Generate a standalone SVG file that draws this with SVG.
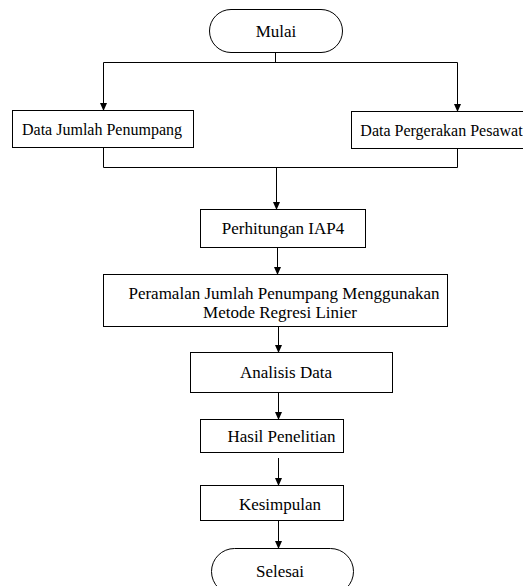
<svg xmlns="http://www.w3.org/2000/svg" width="523" height="586" viewBox="0 0 523 586">
<defs>
<marker id="ah" markerWidth="8" markerHeight="8" refX="7" refY="4" orient="auto" markerUnits="userSpaceOnUse">
<path d="M0,0.5 L8,4 L0,7.5 Z" fill="#000"/>
</marker>
<style>
.b{fill:#fff;stroke:#000;stroke-width:1}
.t{font-family:'Liberation Serif','DejaVu Serif','Times New Roman',Times,serif;font-size:17px;fill:#000;text-anchor:middle;dominant-baseline:central}
.s{font-size:16px}
.c{fill:none;stroke:#000;stroke-width:1}
.a{marker-end:url(#ah)}
</style>
</defs>
<rect width="523" height="586" fill="#fff"/>
<g id="connectors">
<path class="c" d="M275.5,52 V62.5 M103.5,62.5 H457.5"/>
<path class="c a" d="M103.5,62.5 V110"/>
<path class="c a" d="M457.5,62.5 V111"/>
<path class="c" d="M103.5,147 V167.5 H457.5 V148"/>
<path class="c a" d="M276.5,167.5 V209"/>
<path class="c a" d="M277.5,247 V274"/>
<path class="c a" d="M278.5,326 V352"/>
<path class="c a" d="M278.5,392 V419"/>
<path class="c a" d="M278.5,458 V485"/>
<path class="c a" d="M278.5,520 V548"/>
</g>
<g font-family="Liberation Serif, DejaVu Serif, serif">
<g id="mulai"><rect class="b" x="209.5" y="9.5" width="133" height="43" rx="21.5"/><text class="t" x="276" y="31">Mulai</text></g>
<g id="data-jumlah"><rect class="b" x="12.5" y="110.5" width="181" height="37"/><text class="t s" x="102" y="129">Data Jumlah Penumpang</text></g>
<g id="data-pergerakan"><rect class="b" x="351.5" y="111.5" width="185" height="37"/><text class="t s" x="441.5" y="130">Data Pergerakan Pesawat</text></g>
<g id="perhitungan"><rect class="b" x="200.5" y="209.5" width="165" height="38"/><text class="t" x="283" y="228.5">Perhitungan IAP4</text></g>
<g id="peramalan"><rect class="b" x="103.5" y="274.5" width="344" height="52"/><text class="t" x="284" y="293">Peramalan Jumlah Penumpang Menggunakan</text><text class="t" x="280" y="312">Metode Regresi Linier</text></g>
<g id="analisis"><rect class="b" x="190.5" y="352.5" width="202" height="40"/><text class="t" x="286" y="372">Analisis Data</text></g>
<g id="hasil"><rect class="b" x="200.5" y="419.5" width="143" height="33"/><text class="t" x="281.5" y="436">Hasil Penelitian</text></g>
<g id="kesimpulan"><rect class="b" x="200.5" y="485.5" width="143" height="35"/><text class="t" x="280" y="504">Kesimpulan</text></g>
<g id="selesai"><rect class="b" x="211.5" y="548.5" width="142" height="46" rx="23"/><text class="t" x="280" y="571">Selesai</text></g>
</g>
</svg>
